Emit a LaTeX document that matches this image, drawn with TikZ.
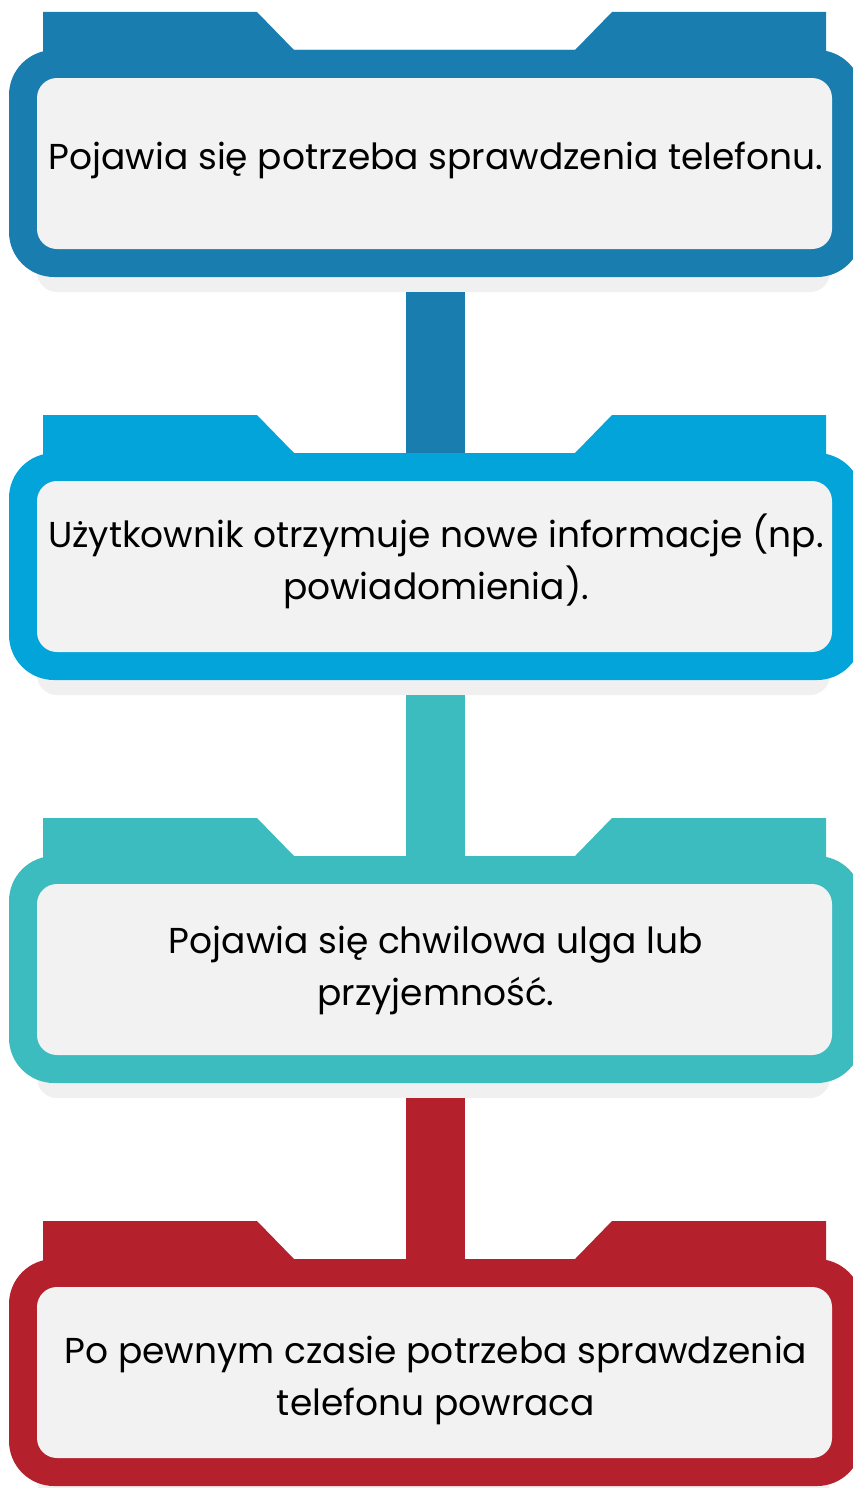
\documentclass[tikz,border=0pt]{standalone}
\usepackage{fontspec}
\setmainfont{Poppins}
\usetikzlibrary{positioning}
\definecolor{stepone}{RGB}{26,125,175}
\definecolor{steptwo}{RGB}{2,164,217}
\definecolor{stepthree}{RGB}{61,188,192}
\definecolor{stepfour}{RGB}{181,32,45}
\definecolor{cardgray}{RGB}{242,242,242}
\definecolor{shadegray}{RGB}{240,240,240}
\tikzset{
  frame/.style={fill=#1,rounded corners=45pt,minimum width=853pt,minimum height=227pt,inner sep=0pt},
  card/.style={fill=cardgray,rounded corners=20pt,minimum width=795pt,minimum height=171pt,inner sep=0pt},
  label/.style={inner sep=0pt,align=center,font=\fontsize{36}{52}\selectfont},
  shade/.style={fill=shadegray,rounded corners=20pt,minimum width=793pt,minimum height=227pt,inner sep=0pt},
  link/.style={line width=59pt,draw=#1}
}

\begin{document}
\begin{tikzpicture}[x=1pt,y=-1pt]
  \useasboundingbox (0,0) rectangle (853,1488);
  \foreach \i/\dy/\col/\txt in {1/-3/stepone/{Pojawia się potrzeba sprawdzenia telefonu.},
      2/-5/steptwo/{Użytkownik otrzymuje nowe informacje (np.\\ powiadomienia).},
      3/1/stepthree/{Pojawia się chwilowa ulga lub\\ przyjemność.},
      4/8/stepfour/{Po pewnym czasie potrzeba sprawdzenia\\ telefonu powraca}}{
    \pgfmathsetmacro\y{163.5+403*(\i-1)}
    \node[shade] (s\i) at (433.5,\y+15) {};
    % folder tabs
    \fill[\col] (43,\y-151.5) -- (257,\y-151.5) -- (294,\y-113.5) -- (575,\y-113.5)
      -- (612,\y-151.5) -- (826,\y-151.5) -- (826,\y-90) -- (43,\y-90) -- cycle;
    \node[frame=\col] (o\i) at (435.5,\y) {};
    \node[card] (b\i) at (434.5,\y) {};
    \node[label] (t\i) at (436,\y+\dy) {\txt};
  }
  \foreach \i/\j/\col in {1/2/stepone,2/3/stepthree,3/4/stepfour}
    \draw[link=\col] (o\j.north |- s\i.south) -- (o\j.north);
\end{tikzpicture}
\end{document}
